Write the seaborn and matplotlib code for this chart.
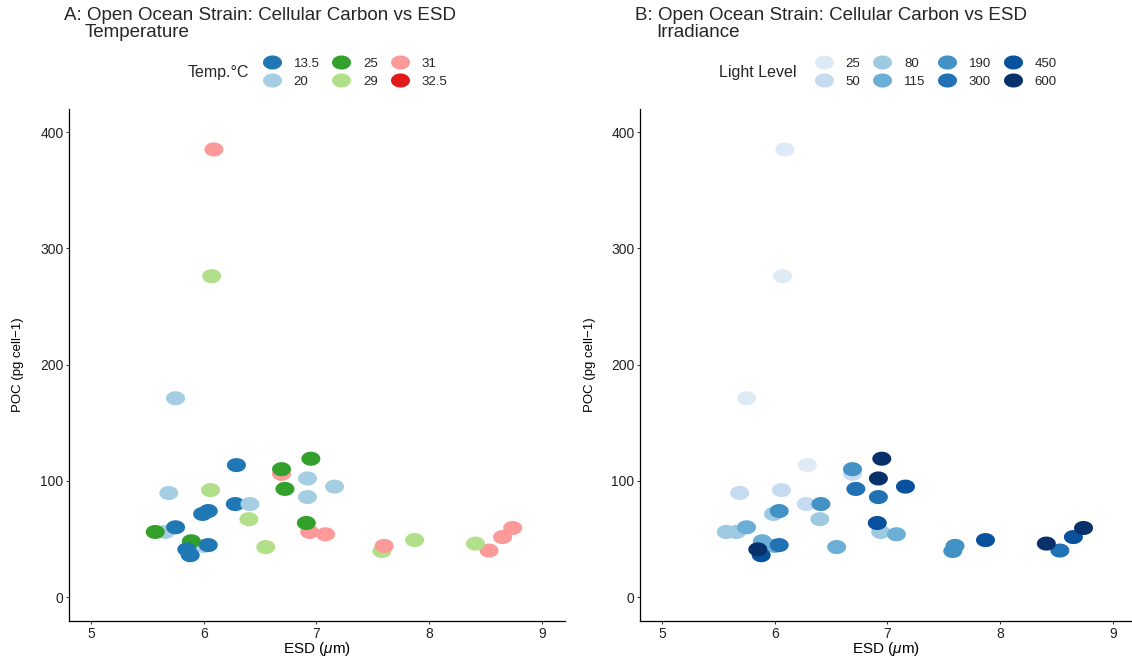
import numpy as np
import pandas as pd
import matplotlib
matplotlib.use("Agg")
import matplotlib.pyplot as plt
from matplotlib.path import Path
from matplotlib.lines import Line2D
import seaborn as sns

# ---------------- data ----------------
esd = [5.66, 6.00, 5.57, 5.89, 5.75, 5.88, 5.85, 6.04, 5.99, 6.04,
       6.28, 6.41, 6.29, 5.75, 5.69, 6.92, 6.92, 7.16, 6.07, 6.06,
       6.40, 6.55, 7.58, 7.87, 6.09, 6.69, 6.94, 7.08, 7.60, 8.53,
       8.65, 8.74, 8.41, 6.69, 6.95, 6.72, 6.91]
poc = [56, 44, 56, 48, 60, 36, 41, 44.7, 71.5, 74,
       80, 80, 113.5, 171, 89.5, 102, 86, 95, 276, 92,
       67, 43, 39.6, 49, 385, 106, 56, 54, 44, 40,
       51.6, 59.4, 46, 110, 119, 93, 63.7]
temp = ["20", "20", "25", "25", "13.5", "13.5", "13.5", "13.5", "13.5", "13.5",
        "13.5", "20", "13.5", "20", "20", "20", "20", "20", "29", "29",
        "29", "29", "29", "29", "31", "31", "31", "31", "31", "31",
        "31", "31", "29", "25", "25", "25", "25"]
light = ["80", "115", "80", "115", "115", "450", "600", "300", "80", "190",
         "50", "190", "25", "25", "50", "600", "300", "450", "25", "50",
         "80", "115", "190", "450", "25", "50", "80", "115", "190", "300",
         "450", "600", "600", "190", "600", "300", "450"]

temp_levels = ["13.5", "20", "25", "29", "31", "32.5"]
temp_colors = ["#1F78B4", "#A6CEE3", "#33A02C", "#B2DF8A", "#FB9A99", "#E31A1C"]
light_levels = ["25", "50", "80", "115", "190", "300", "450", "600"]
light_colors = ["#DEEBF7", "#C6DBEF", "#9ECAE1", "#6BAED6",
                "#4292C6", "#2171B5", "#08519C", "#08306B"]

df = pd.DataFrame({"ESD": esd, "POC": poc, "Temp": temp, "Light": light})

# ---------------- style ----------------
sns.set_style("ticks")
plt.rcParams["font.family"] = ["Liberation Sans", "DejaVu Sans"]
plt.rcParams["mathtext.fontset"] = "custom"
plt.rcParams["mathtext.rm"] = "Liberation Sans"
plt.rcParams["mathtext.it"] = "Liberation Sans:italic"

W, H = 1132, 658
fig = plt.figure(figsize=(W / 100, H / 100), dpi=100)

theta = np.linspace(0, 2 * np.pi, 72)
ellipse = Path(np.column_stack([np.cos(theta), 0.74 * np.sin(theta)]), closed=True)
PT_S = 187
MS = np.sqrt(PT_S)

ax_l = fig.add_axes([69 / W, 37 / H, 496 / W, 512 / H])
ax_r = fig.add_axes([640 / W, 37 / H, 492 / W, 512 / H])

sns.scatterplot(data=df, x="ESD", y="POC", hue="Temp", hue_order=temp_levels,
                palette=dict(zip(temp_levels, temp_colors)), marker=ellipse,
                s=PT_S, linewidth=0, edgecolor="none", legend=False, ax=ax_l)
sns.scatterplot(data=df, x="ESD", y="POC", hue="Light", hue_order=light_levels,
                palette=dict(zip(light_levels, light_colors)), marker=ellipse,
                s=PT_S, linewidth=0, edgecolor="none", legend=False, ax=ax_r)

for ax, xmax, ylx in [(ax_l, 9.204, -0.103), (ax_r, 9.17, -0.102)]:
    ax.set_xlim(4.805, xmax)
    ax.set_ylim(-20.6, 419.8)
    ax.set_xticks([5, 6, 7, 8, 9])
    ax.set_yticks([0, 100, 200, 300, 400])
    sns.despine(ax=ax)
    for sp in ["left", "bottom"]:
        ax.spines[sp].set_linewidth(0.9)
        ax.spines[sp].set_color("black")
    ax.tick_params(direction="out", length=2.5, width=0.7, colors="#333333",
                   labelsize=10, pad=1.5, labelcolor="#222222")
    ax.set_xlabel("ESD ($\\mu$m)", fontsize=11, color="black")
    ax.set_ylabel("POC (pg cell\u22121)", fontsize=9.5, color="black")
    ax.xaxis.set_label_coords(0.5, -0.054)
    ax.xaxis.label.set_va("center")
    ax.yaxis.set_label_coords(ylx, 0.5)
    ax.yaxis.label.set_va("center")

# titles
TFS = 13.5
fig.text(64 / W, 1 - 15 / H, "A: Open Ocean Strain: Cellular Carbon vs ESD",
         fontsize=TFS, va="center", ha="left")
fig.text(85 / W, 1 - 32.5 / H, "Temperature", fontsize=TFS, va="center", ha="left")
fig.text(635 / W, 1 - 15 / H, "B: Open Ocean Strain: Cellular Carbon vs ESD",
         fontsize=TFS, va="center", ha="left")
fig.text(656 / W, 1 - 32.5 / H, "Irradiance", fontsize=TFS, va="center", ha="left")

# legends
def make_handles(colors):
    return [Line2D([], [], linestyle="none", marker=ellipse, markersize=MS,
                   markerfacecolor=c, markeredgewidth=0) for c in colors]

fig.text(188 / W, 1 - 72 / H, "Temp.\u00b0C", fontsize=11.5, va="center", ha="left")
fig.legend(make_handles(temp_colors), temp_levels, ncol=3, frameon=False,
           loc="center left", bbox_to_anchor=(262 / W, 1 - 72.5 / H),
           fontsize=9.5, handlelength=1.5, handletextpad=0.9, columnspacing=0.9,
           labelspacing=0.45, borderpad=0, borderaxespad=0)

fig.text(719 / W, 1 - 72 / H, "Light Level", fontsize=11.5, va="center", ha="left")
fig.legend(make_handles(light_colors), light_levels, ncol=4, frameon=False,
           loc="center left", bbox_to_anchor=(814 / W, 1 - 72.5 / H),
           fontsize=9.5, handlelength=1.5, handletextpad=0.9, columnspacing=0.9,
           labelspacing=0.45, borderpad=0, borderaxespad=0)

fig.savefig("out.png", dpi=100)
